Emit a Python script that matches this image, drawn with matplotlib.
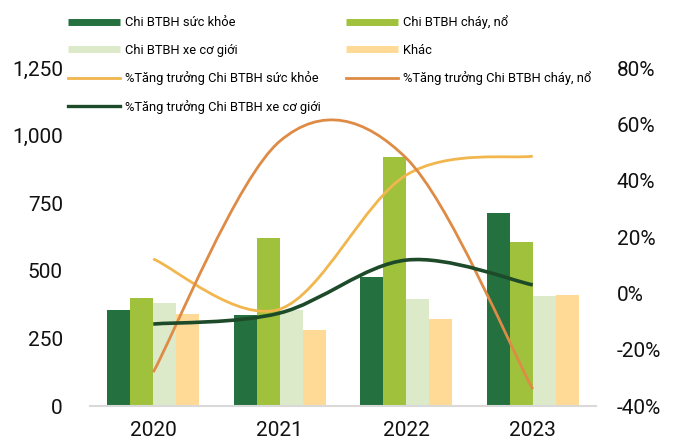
import numpy as np
import matplotlib
matplotlib.use('Agg')
import matplotlib.pyplot as plt
from matplotlib.path import Path
from matplotlib.patches import PathPatch
from matplotlib.lines import Line2D
from matplotlib.ticker import FuncFormatter

plt.rcParams['font.family'] = ['Roboto', 'DejaVu Sans']

# Claims paid by line (bn VND) and yearly growth (%)
years = ['2020', '2021', '2022', '2023']
health = [355, 337, 478, 715]
fire = [400, 622, 922, 607]
motor = [381, 355, 396, 407]
other = [341, 281, 322, 411]

health_growth = [12.2, -5.6, 42.0, 48.7]
fire_growth = [-28.0, 54.0, 48.0, -34.0]
motor_growth = [-10.9, -7.0, 11.8, 3.0]

bar_labels = ['Chi BTBH sức khỏe', 'Chi BTBH cháy, nổ', 'Chi BTBH xe cơ giới', 'Khác']
line_labels = ['%Tăng trưởng Chi BTBH sức khỏe', '%Tăng trưởng Chi BTBH cháy, nổ',
               '%Tăng trưởng Chi BTBH xe cơ giới']

bar_colors = ['#24703F', '#A0C13B', '#DCEAC9', '#FFDA96']
line_colors = ['#F1B64E', '#DE8B45', '#1D4A28']


def smooth_path(xs, ys):
    # cubic bezier through the points, catmull-rom style control points
    pts = np.column_stack([xs, ys]).astype(float)
    verts = [pts[0]]
    codes = [Path.MOVETO]
    n = len(pts)
    for i in range(n - 1):
        p0 = pts[i - 1] if i > 0 else pts[i]
        p1 = pts[i]
        p2 = pts[i + 1]
        p3 = pts[i + 2] if i + 2 < n else pts[i + 1]
        c1 = p1 + (p2 - p0) / 6.0
        c2 = p2 - (p3 - p1) / 6.0
        verts += [c1, c2, p2]
        codes += [Path.CURVE4] * 3
    return Path(verts, codes)


fig = plt.figure(figsize=(6.75, 4.44), dpi=100)
ax = fig.add_axes([90 / 675, 38 / 444, 506 / 675, 338 / 444])

x = np.arange(len(years))
w = 0.182
series = [health, fire, motor, other]
for k, vals in enumerate(series):
    ax.bar(x + (k - 1.5) * w, vals, width=w, color=bar_colors[k], zorder=2)

ax.set_xlim(-0.5, 3.5)
ax.set_ylim(0, 1250)
ax.set_yticks([0, 250, 500, 750, 1000, 1250])
ax.yaxis.set_major_formatter(FuncFormatter(lambda v, p: '{:,.0f}'.format(v)))
ax.set_xticks(x)
ax.set_xticklabels(years)
ax.tick_params(axis='both', length=0, labelsize=15, colors='#111111')
ax.tick_params(axis='y', pad=19.5)
ax.tick_params(axis='x', pad=11)
for s in ['top', 'right', 'left']:
    ax.spines[s].set_visible(False)
ax.spines['bottom'].set_color('#D9D9D9')
ax.spines['bottom'].set_linewidth(1.5)

ax2 = ax.twinx()
ax2.set_ylim(-40, 80)
ax2.set_yticks([-40, -20, 0, 20, 40, 60, 80])
ax2.yaxis.set_major_formatter(FuncFormatter(lambda v, p: '{:.0f}%'.format(v)))
ax2.tick_params(axis='y', length=0, labelsize=15, colors='#111111', pad=15)
for s in ax2.spines.values():
    s.set_visible(False)

for vals, c in zip([health_growth, fire_growth, motor_growth], line_colors):
    lw = 2.6 if c == line_colors[2] else 2.0
    ax2.add_patch(PathPatch(smooth_path(x, vals), facecolor='none',
                            edgecolor=c, linewidth=lw, zorder=3))

# legend: two columns, filled column-first
hb = Line2D([], [], color=bar_colors[0], lw=5, solid_capstyle='butt')
fb = Line2D([], [], color=bar_colors[1], lw=5, solid_capstyle='butt')
mb = Line2D([], [], color=bar_colors[2], lw=5, solid_capstyle='butt')
ob = Line2D([], [], color=bar_colors[3], lw=5, solid_capstyle='butt')
hg = Line2D([], [], color=line_colors[0], lw=2)
fg = Line2D([], [], color=line_colors[1], lw=2)
mg = Line2D([], [], color=line_colors[2], lw=2.4)
handles = [hb, mb, hg, mg, fb, ob, fg]
labels = [bar_labels[0], bar_labels[2], line_labels[0], line_labels[2],
          bar_labels[1], bar_labels[3], line_labels[1]]
leg = fig.legend(handles, labels, ncol=2, frameon=False, fontsize=9.3,
                 loc='upper left', bbox_to_anchor=(58 / 675, 1 - 5 / 444),
                 borderpad=0.3, handlelength=4.0, handletextpad=0.4,
                 labelspacing=1.12, columnspacing=1.95)

fig.savefig('out.png', dpi=100)
